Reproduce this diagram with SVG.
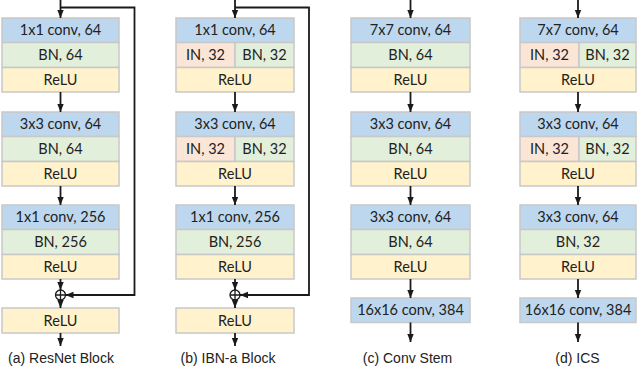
<svg xmlns="http://www.w3.org/2000/svg" width="640" height="368" viewBox="0 0 640 368">
<style>
.box{stroke:#c8c8c8;stroke-width:1.5}
.blue{fill:#bdd7ee}
.green{fill:#e2efda}
.yellow{fill:#fff2cc}
.peach{fill:#fbe5d6}
.t{font-family:Lato,"Liberation Sans",sans-serif;font-size:14.5px;fill:#222;text-anchor:middle}
.cap{font-family:"Liberation Sans",Arial,sans-serif;font-size:14px;fill:#222;text-anchor:middle}
.ln{stroke:#1a1a1a;stroke-width:1.8;fill:none}
.arr{marker-end:url(#ah)}
</style>
<defs>
<marker id="ah" markerUnits="userSpaceOnUse" markerWidth="8" markerHeight="8" viewBox="0 0 8 8" refX="8" refY="4" orient="auto">
<path d="M0,0.8 L8,4 L0,7.2 z" fill="#1a1a1a"/>
</marker>
</defs>
<rect width="640" height="368" fill="#fff"/>

<!-- Block (a) -->
<g id="a-conv1"><rect class="box blue" x="2" y="18" width="117" height="24.5"/><text class="t" x="60.5" y="35.3">1x1 conv, 64</text></g>
<g id="a-bn1"><rect class="box green" x="2" y="42.5" width="117" height="25"/><text class="t" x="60.5" y="60.1">BN, 64</text></g>
<g id="a-relu1"><rect class="box yellow" x="2" y="67.5" width="117" height="24.5"/><text class="t" x="60.5" y="84.8">ReLU</text></g>
<g id="a-conv2"><rect class="box blue" x="2" y="112" width="117" height="24.5"/><text class="t" x="60.5" y="129.3">3x3 conv, 64</text></g>
<g id="a-bn2"><rect class="box green" x="2" y="136.5" width="117" height="25"/><text class="t" x="60.5" y="154.1">BN, 64</text></g>
<g id="a-relu2"><rect class="box yellow" x="2" y="161.5" width="117" height="24.5"/><text class="t" x="60.5" y="178.8">ReLU</text></g>
<g id="a-conv3"><rect class="box blue" x="2" y="205" width="117" height="24.5"/><text class="t" x="60.5" y="222.3">1x1 conv, 256</text></g>
<g id="a-bn3"><rect class="box green" x="2" y="229.5" width="117" height="25"/><text class="t" x="60.5" y="247.1">BN, 256</text></g>
<g id="a-relu3"><rect class="box yellow" x="2" y="254.5" width="117" height="24.5"/><text class="t" x="60.5" y="271.8">ReLU</text></g>
<g id="a-add"><circle cx="60.5" cy="295" r="5" fill="#fff" stroke="#1a1a1a" stroke-width="1.3"/><path d="M55.5,295 H65.5 M60.5,290 V300" stroke="#1a1a1a" stroke-width="1.3"/></g>
<g id="a-relu4"><rect class="box yellow" x="2" y="308" width="117" height="25"/><text class="t" x="60.5" y="325.6">ReLU</text></g>

<!-- Block (b) -->
<g id="b-conv1"><rect class="box blue" x="176" y="18" width="118" height="24.5"/><text class="t" x="235" y="35.3">1x1 conv, 64</text></g>
<g id="b-in1"><rect class="box peach" x="176" y="42.5" width="59" height="25"/><text class="t" x="205.5" y="60.1">IN, 32</text></g>
<g id="b-bn1"><rect class="box green" x="235" y="42.5" width="59" height="25"/><text class="t" x="264.5" y="60.1">BN, 32</text></g>
<g id="b-relu1"><rect class="box yellow" x="176" y="67.5" width="118" height="24.5"/><text class="t" x="235" y="84.8">ReLU</text></g>
<g id="b-conv2"><rect class="box blue" x="176" y="112" width="118" height="24.5"/><text class="t" x="235" y="129.3">3x3 conv, 64</text></g>
<g id="b-in2"><rect class="box peach" x="176" y="136.5" width="59" height="25"/><text class="t" x="205.5" y="154.1">IN, 32</text></g>
<g id="b-bn2"><rect class="box green" x="235" y="136.5" width="59" height="25"/><text class="t" x="264.5" y="154.1">BN, 32</text></g>
<g id="b-relu2"><rect class="box yellow" x="176" y="161.5" width="118" height="24.5"/><text class="t" x="235" y="178.8">ReLU</text></g>
<g id="b-conv3"><rect class="box blue" x="176" y="205" width="118" height="24.5"/><text class="t" x="235" y="222.3">1x1 conv, 256</text></g>
<g id="b-bn3"><rect class="box green" x="176" y="229.5" width="118" height="25"/><text class="t" x="235" y="247.1">BN, 256</text></g>
<g id="b-relu3"><rect class="box yellow" x="176" y="254.5" width="118" height="24.5"/><text class="t" x="235" y="271.8">ReLU</text></g>
<g id="b-add"><circle cx="235" cy="295" r="5" fill="#fff" stroke="#1a1a1a" stroke-width="1.3"/><path d="M230,295 H240 M235,290 V300" stroke="#1a1a1a" stroke-width="1.3"/></g>
<g id="b-relu4"><rect class="box yellow" x="176" y="308" width="118" height="25"/><text class="t" x="235" y="325.6">ReLU</text></g>

<!-- Block (c) -->
<g id="c-conv1"><rect class="box blue" x="351" y="18" width="119" height="24.5"/><text class="t" x="410.5" y="35.3">7x7 conv, 64</text></g>
<g id="c-bn1"><rect class="box green" x="351" y="42.5" width="119" height="25"/><text class="t" x="410.5" y="60.1">BN, 64</text></g>
<g id="c-relu1"><rect class="box yellow" x="351" y="67.5" width="119" height="24.5"/><text class="t" x="410.5" y="84.8">ReLU</text></g>
<g id="c-conv2"><rect class="box blue" x="351" y="112" width="119" height="24.5"/><text class="t" x="410.5" y="129.3">3x3 conv, 64</text></g>
<g id="c-bn2"><rect class="box green" x="351" y="136.5" width="119" height="25"/><text class="t" x="410.5" y="154.1">BN, 64</text></g>
<g id="c-relu2"><rect class="box yellow" x="351" y="161.5" width="119" height="24.5"/><text class="t" x="410.5" y="178.8">ReLU</text></g>
<g id="c-conv3"><rect class="box blue" x="351" y="205" width="119" height="24.5"/><text class="t" x="410.5" y="222.3">3x3 conv, 64</text></g>
<g id="c-bn3"><rect class="box green" x="351" y="229.5" width="119" height="25"/><text class="t" x="410.5" y="247.1">BN, 64</text></g>
<g id="c-relu3"><rect class="box yellow" x="351" y="254.5" width="119" height="24.5"/><text class="t" x="410.5" y="271.8">ReLU</text></g>
<g id="c-conv4"><rect class="box blue" x="351" y="298" width="119" height="24.5"/><text class="t" x="410.5" y="315.3">16x16 conv, 384</text></g>

<!-- Block (d) -->
<g id="d-conv1"><rect class="box blue" x="520" y="18" width="116" height="24.5"/><text class="t" x="578" y="35.3">7x7 conv, 64</text></g>
<g id="d-in1"><rect class="box peach" x="520" y="42.5" width="59" height="25"/><text class="t" x="549.5" y="60.1">IN, 32</text></g>
<g id="d-bn1"><rect class="box green" x="579" y="42.5" width="57" height="25"/><text class="t" x="607.5" y="60.1">BN, 32</text></g>
<g id="d-relu1"><rect class="box yellow" x="520" y="67.5" width="116" height="24.5"/><text class="t" x="578" y="84.8">ReLU</text></g>
<g id="d-conv2"><rect class="box blue" x="520" y="112" width="116" height="24.5"/><text class="t" x="578" y="129.3">3x3 conv, 64</text></g>
<g id="d-in2"><rect class="box peach" x="520" y="136.5" width="59" height="25"/><text class="t" x="549.5" y="154.1">IN, 32</text></g>
<g id="d-bn2"><rect class="box green" x="579" y="136.5" width="57" height="25"/><text class="t" x="607.5" y="154.1">BN, 32</text></g>
<g id="d-relu2"><rect class="box yellow" x="520" y="161.5" width="116" height="24.5"/><text class="t" x="578" y="178.8">ReLU</text></g>
<g id="d-conv3"><rect class="box blue" x="520" y="205" width="116" height="24.5"/><text class="t" x="578" y="222.3">3x3 conv, 64</text></g>
<g id="d-bn3"><rect class="box green" x="520" y="229.5" width="116" height="25"/><text class="t" x="578" y="247.1">BN, 32</text></g>
<g id="d-relu3"><rect class="box yellow" x="520" y="254.5" width="116" height="24.5"/><text class="t" x="578" y="271.8">ReLU</text></g>
<g id="d-conv4"><rect class="box blue" x="520" y="298" width="116" height="24.5"/><text class="t" x="578" y="315.3">16x16 conv, 384</text></g>

<!-- Connectors -->
<g id="connectors">
<path class="ln arr" d="M60.5,0 V18"/>
<path class="ln arr" d="M60.5,92 V112"/>
<path class="ln arr" d="M60.5,186 V205"/>
<path class="ln arr" d="M60.5,279 V290"/>
<path class="ln arr" d="M60.5,300 V308"/>
<path class="ln arr" d="M60.5,333 V346"/>
<path class="ln arr" d="M60.5,7.5 H134.5 V295 H65.5"/>

<path class="ln arr" d="M235,0 V18"/>
<path class="ln arr" d="M235,92 V112"/>
<path class="ln arr" d="M235,186 V205"/>
<path class="ln arr" d="M235,279 V290"/>
<path class="ln arr" d="M235,300 V308"/>
<path class="ln arr" d="M235,333 V346"/>
<path class="ln arr" d="M235,7.5 H309 V295 H240"/>

<path class="ln arr" d="M410.5,0 V18"/>
<path class="ln arr" d="M410.5,92 V112"/>
<path class="ln arr" d="M410.5,186 V205"/>
<path class="ln arr" d="M410.5,279 V298"/>
<path class="ln arr" d="M410.5,322.5 V342"/>

<path class="ln arr" d="M578,0 V18"/>
<path class="ln arr" d="M578,92 V112"/>
<path class="ln arr" d="M578,186 V205"/>
<path class="ln arr" d="M578,279 V298"/>
<path class="ln arr" d="M578,322.5 V342"/>
</g>

<!-- Captions -->
<text class="cap" x="61" y="363">(a) ResNet Block</text>
<text class="cap" x="228" y="363">(b) IBN-a Block</text>
<text class="cap" x="407.5" y="363">(c) Conv Stem</text>
<text class="cap" x="577.5" y="363">(d) ICS</text>
</svg>
